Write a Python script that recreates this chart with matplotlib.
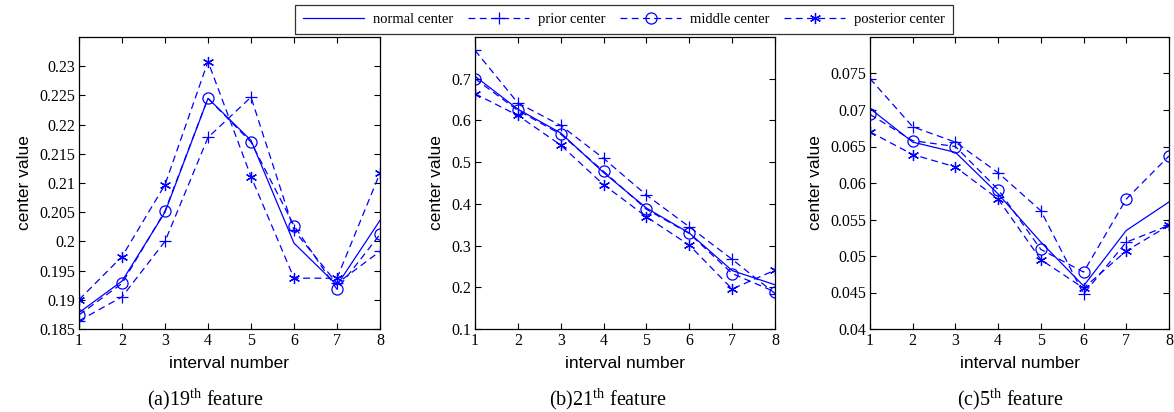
import matplotlib
matplotlib.use('Agg')
import matplotlib.pyplot as plt
from matplotlib.ticker import FuncFormatter
from matplotlib.lines import Line2D

plt.rcParams['mathtext.fontset'] = 'custom'
plt.rcParams['mathtext.rm'] = 'Liberation Serif'

x = [1, 2, 3, 4, 5, 6, 7, 8]

# (a) 19th feature
normal_a = [0.1878, 0.1932, 0.2050, 0.2245, 0.2173, 0.1997, 0.1925, 0.2036]
prior_a = [0.1864, 0.1905, 0.2000, 0.2178, 0.2247, 0.2019, 0.1928, 0.1983]
middle_a = [0.1874, 0.1928, 0.2052, 0.2245, 0.2170, 0.2027, 0.1918, 0.2012]
post_a = [0.1900, 0.1974, 0.2097, 0.2308, 0.2111, 0.1937, 0.1937, 0.2117]

# (b) 21st feature
normal_b = [0.706, 0.627, 0.570, 0.475, 0.390, 0.330, 0.240, 0.206]
prior_b = [0.768, 0.642, 0.588, 0.509, 0.421, 0.345, 0.267, 0.185]
middle_b = [0.700, 0.624, 0.567, 0.478, 0.387, 0.329, 0.233, 0.189]
post_b = [0.664, 0.612, 0.541, 0.446, 0.369, 0.301, 0.196, 0.241]

# (c) 5th feature
normal_c = [0.0702, 0.0656, 0.0642, 0.0585, 0.0519, 0.0459, 0.0535, 0.0574]
prior_c = [0.0743, 0.0677, 0.0656, 0.0614, 0.0562, 0.0448, 0.0519, 0.0542]
middle_c = [0.0694, 0.0658, 0.0650, 0.0591, 0.0509, 0.0478, 0.0578, 0.0637]
post_c = [0.0670, 0.0639, 0.0622, 0.0578, 0.0495, 0.0456, 0.0507, 0.0542]

series_names = ['normal center', 'prior center', 'middle center', 'posterior center']
captions = ['19', '21', '5']
letters = ['a', 'b', 'c']
ylims = [(0.185, 0.235), (0.1, 0.8), (0.04, 0.08)]
yticks = [[0.185 + 0.005 * i for i in range(10)],
          [0.1 + 0.1 * i for i in range(7)],
          [0.04 + 0.005 * i for i in range(8)]]

data = [(normal_a, prior_a, middle_a, post_a),
        (normal_b, prior_b, middle_b, post_b),
        (normal_c, prior_c, middle_c, post_c)]

blue = '#0000ff'
star = (6, 2, 0)
dash = (0, (5.5, 3.5))

fig = plt.figure(figsize=(11.74, 4.12), dpi=100)
lefts = [79, 475, 870]
widths = [301, 300, 299]
cap_x = [205, 608, 1010]

for i in range(3):
    ax = fig.add_axes([lefts[i] / 1174, 83 / 412, widths[i] / 1174, 292 / 412])
    n, p, m, s = data[i]
    ax.plot(x, n, color=blue, lw=0.9, ls='-')
    ax.plot(x, p, color=blue, lw=0.9, ls=dash, marker='+', ms=9, mew=0.9)
    ax.plot(x, m, color=blue, lw=0.9, ls=dash, marker='o', ms=8, mew=0.9, mfc='none')
    ax.plot(x, s, color=blue, lw=0.9, ls=dash, marker=star, ms=8, mew=0.9)
    ax.set_xlim(1, 8)
    ax.set_ylim(*ylims[i])
    ax.set_xticks(x)
    ax.set_yticks(yticks[i])
    ax.yaxis.set_major_formatter(FuncFormatter(lambda v, pos: '%g' % round(v, 4)))
    ax.tick_params(direction='in', top=True, right=True, length=4, width=0.8,
                   labelsize=11.5, pad=3)
    for lab in ax.get_xticklabels() + ax.get_yticklabels():
        lab.set_fontfamily('Liberation Serif')
    for sp in ax.spines.values():
        sp.set_linewidth(0.9)
    ax.set_xlabel('interval number', fontsize=12.5, family='Liberation Sans', labelpad=5)
    ax.set_ylabel('center value', fontsize=12.5, family='Liberation Sans', labelpad=5)
    fig.text(cap_x[i] / 1174, 1 - 399 / 412,
             '(%s)%s$^{\\mathrm{th}}$ feature' % (letters[i], captions[i]),
             ha='center', va='center', fontsize=14.5, family='Liberation Serif')

handles = [
    Line2D([], [], color=blue, lw=0.9, ls='-'),
    Line2D([], [], color=blue, lw=0.9, ls=dash, marker='+', ms=9, mew=0.9),
    Line2D([], [], color=blue, lw=0.9, ls=dash, marker='o', ms=8, mew=0.9, mfc='none'),
    Line2D([], [], color=blue, lw=0.9, ls=dash, marker=star, ms=8, mew=0.9),
]
leg = fig.legend(handles, series_names, loc='upper center',
                 bbox_to_anchor=(624 / 1174, 1 - 5 / 412), ncol=4,
                 frameon=True, fancybox=False, shadow=False,
                 prop={'family': 'Liberation Serif', 'size': 10.5},
                 handlelength=4.2, handletextpad=0.6, columnspacing=1.0,
                 borderpad=0.55, borderaxespad=0)
leg.get_frame().set_edgecolor('black')
leg.get_frame().set_linewidth(0.9)

fig.savefig('out.png', dpi=100)
